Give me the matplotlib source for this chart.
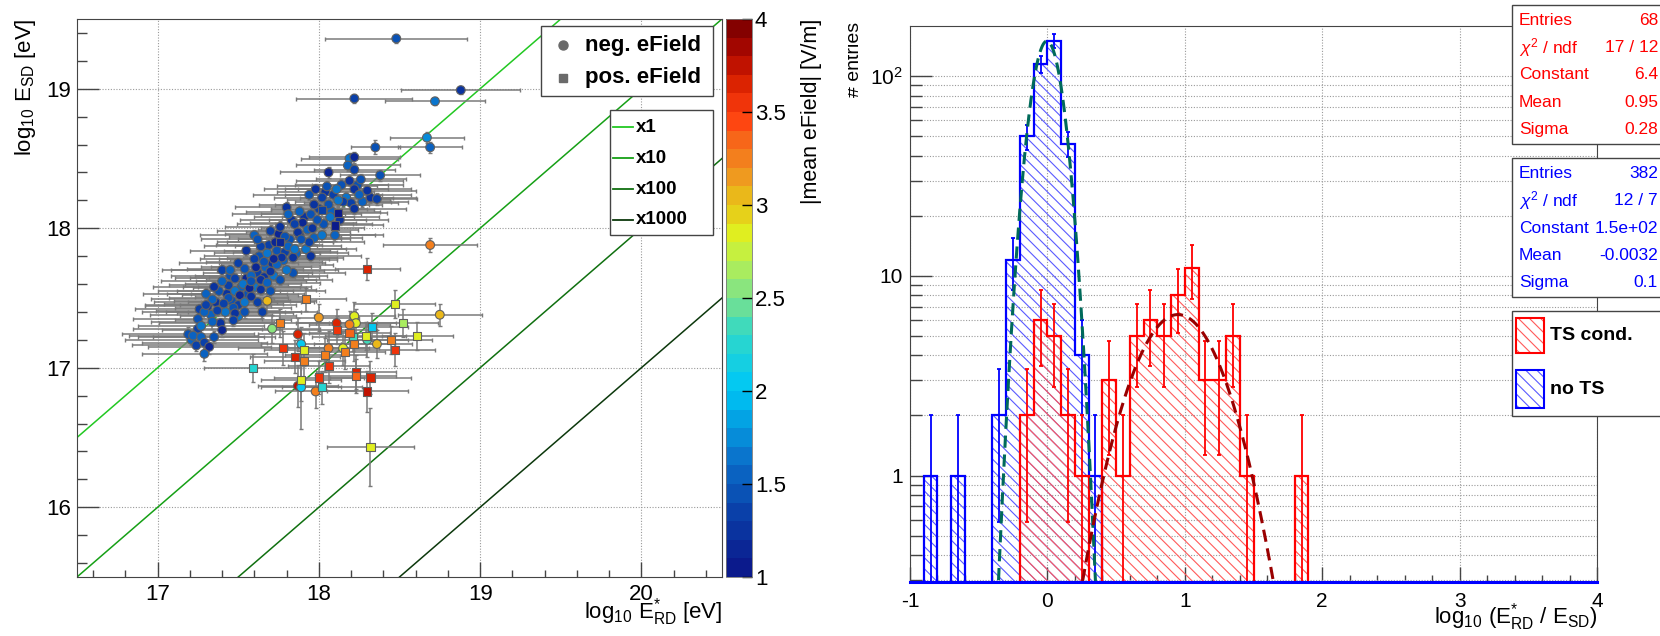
import numpy as np
import matplotlib
matplotlib.use('Agg')
import matplotlib.pyplot as plt
from matplotlib.colors import LinearSegmentedColormap, BoundaryNorm
from matplotlib.cm import ScalarMappable
from matplotlib.patches import Rectangle
from matplotlib.lines import Line2D
from matplotlib.transforms import Bbox, TransformedBbox
from matplotlib.ticker import MultipleLocator, FixedLocator, FixedFormatter, LogLocator, NullFormatter

plt.rcParams['font.family'] = ['Liberation Sans', 'DejaVu Sans']
plt.rcParams['mathtext.fontset'] = 'custom'
plt.rcParams['mathtext.rm'] = 'Liberation Sans'
plt.rcParams['mathtext.it'] = 'Liberation Sans:italic'
plt.rcParams['mathtext.bf'] = 'Liberation Sans:bold'
plt.rcParams['axes.unicode_minus'] = False
plt.rcParams['hatch.linewidth'] = 0.8

W, H = 1660, 636

# ---------------- left panel data: log10 E_RD, log10 E_SD, errors, |mean eField| ----------------
# neg. eField (circles)
neg_x = [18.48, 18.88, 18.22, 18.72, 18.67, 18.69, 18.35, 18.19, 18.22, 18.18,
         18.22, 18.06, 18.38, 18.19, 18.26, 18.22, 18.11, 18.30, 17.94, 18.02,
         18.25, 18.36, 17.97, 18.06, 18.15, 18.22, 18.07, 17.81, 17.90, 17.99,
         17.85, 17.76, 17.93, 18.02, 17.79, 17.87, 17.94, 17.73, 17.81, 17.89,
         17.64, 17.68, 17.77, 17.84, 17.66, 17.60, 17.74, 17.80, 17.61, 17.54,
         17.70, 17.58, 17.48, 17.64, 17.53, 17.76, 17.44, 17.57, 17.38, 17.48,
         17.64, 17.44, 17.51, 17.34, 17.41, 17.54, 17.31, 17.47, 17.37, 17.29,
         17.48, 17.25, 17.34, 17.40, 17.19, 17.22, 17.27, 17.29, 17.32, 17.29,
         17.47, 17.54, 17.58, 17.68, 17.72, 17.88, 17.96, 18.12, 17.62, 17.50,
         17.40, 17.35, 17.70, 17.85, 17.58, 17.45, 18.05, 17.98, 17.30, 17.27,
         # high field events
         18.69, 18.75, 18.36, 18.30, 18.22, 18.23, 18.19, 18.11, 18.15, 18.06,
         18.00, 17.68, 17.71, 17.87, 17.89, 17.87, 17.89, 17.98]
neg_y = [19.36, 18.99, 18.93, 18.91, 18.65, 18.58, 18.58, 18.50, 18.51, 18.45,
         18.42, 18.40, 18.38, 18.34, 18.35, 18.28, 18.28, 18.27, 18.24, 18.22,
         18.24, 18.21, 18.17, 18.17, 18.19, 18.14, 18.08, 18.10, 18.04, 18.06,
         18.03, 18.01, 17.99, 17.95, 17.94, 17.97, 17.90, 17.90, 17.87, 17.92,
         17.87, 17.82, 17.79, 17.79, 17.76, 17.78, 17.74, 17.70, 17.72, 17.71,
         17.69, 17.66, 17.64, 17.63, 17.60, 17.63, 17.59, 17.57, 17.55, 17.55,
         17.56, 17.50, 17.52, 17.49, 17.46, 17.47, 17.44, 17.43, 17.41, 17.40,
         17.39, 17.35, 17.33, 17.27, 17.24, 17.23, 17.22, 17.18, 17.15, 17.10,
         17.34, 17.40, 17.51, 17.61, 17.78, 18.12, 18.00, 18.20, 17.92, 17.75,
         17.62, 17.58, 17.98, 17.85, 17.62, 17.70, 18.30, 18.28, 17.45, 17.30,
         17.88, 17.38, 17.17, 17.20, 17.37, 17.32, 17.31, 17.32, 17.14, 17.14,
         17.36, 17.48, 17.28, 17.24, 17.17, 16.87, 16.86, 16.83]
neg_xerr = [0.44, 0.37, 0.36, 0.31, 0.23, 0.20, 0.15, 0.30, 0.28, 0.32,
            0.25, 0.30, 0.25, 0.33, 0.28, 0.35, 0.32, 0.30, 0.35, 0.30,
            0.32, 0.25, 0.34, 0.33, 0.30, 0.32, 0.30, 0.35, 0.33, 0.30,
            0.36, 0.34, 0.31, 0.33, 0.35, 0.32, 0.34, 0.36, 0.33, 0.30,
            0.35, 0.33, 0.34, 0.31, 0.36, 0.34, 0.35, 0.32, 0.34, 0.36,
            0.33, 0.35, 0.37, 0.34, 0.36, 0.32, 0.37, 0.35, 0.38, 0.36,
            0.34, 0.37, 0.36, 0.38, 0.37, 0.35, 0.39, 0.36, 0.38, 0.39,
            0.36, 0.40, 0.38, 0.37, 0.41, 0.40, 0.39, 0.39, 0.38, 0.39,
            0.36, 0.35, 0.35, 0.33, 0.34, 0.33, 0.32, 0.32, 0.35, 0.37,
            0.38, 0.38, 0.33, 0.32, 0.34, 0.37, 0.31, 0.32, 0.38, 0.39,
            0.29, 0.26, 0.22, 0.25, 0.25, 0.25, 0.25, 0.25, 0.22, 0.25,
            0.25, 0.30, 0.30, 0.25, 0.25, 0.25, 0.25, 0.25]
neg_yerr = [0.03, 0.03, 0.03, 0.03, 0.04, 0.04, 0.05, 0.04, 0.04, 0.04,
            0.04, 0.04, 0.04, 0.04, 0.04, 0.04, 0.04, 0.04, 0.04, 0.04,
            0.04, 0.04, 0.04, 0.04, 0.04, 0.04, 0.04, 0.04, 0.04, 0.04,
            0.04, 0.04, 0.04, 0.04, 0.04, 0.04, 0.04, 0.04, 0.04, 0.04,
            0.04, 0.04, 0.04, 0.04, 0.04, 0.04, 0.04, 0.04, 0.04, 0.04,
            0.04, 0.04, 0.04, 0.04, 0.04, 0.04, 0.04, 0.04, 0.04, 0.04,
            0.04, 0.04, 0.04, 0.04, 0.04, 0.04, 0.04, 0.04, 0.04, 0.04,
            0.04, 0.05, 0.05, 0.05, 0.05, 0.05, 0.05, 0.05, 0.05, 0.05,
            0.04, 0.04, 0.04, 0.04, 0.04, 0.04, 0.04, 0.04, 0.04, 0.04,
            0.04, 0.04, 0.04, 0.04, 0.04, 0.04, 0.04, 0.04, 0.04, 0.05,
            0.05, 0.08, 0.10, 0.12, 0.10, 0.10, 0.10, 0.10, 0.12, 0.12,
            0.10, 0.08, 0.10, 0.12, 0.12, 0.15, 0.30, 0.12]
neg_field = [1.45, 1.25, 1.30, 1.65, 1.75, 1.55, 1.45, 1.70, 1.15, 1.50,
             1.35, 1.15, 1.45, 1.20, 1.40, 1.25, 1.60, 1.20, 1.40, 1.30,
             1.55, 1.30, 1.20, 1.45, 1.35, 1.25, 1.65, 1.50, 1.15, 1.45,
             1.30, 1.25, 1.55, 1.70, 1.40, 1.20, 1.30, 1.15, 1.50, 1.45,
             1.35, 1.60, 1.25, 1.20, 1.45, 1.30, 1.55, 1.70, 1.15, 1.40,
             1.25, 1.50, 1.35, 1.20, 1.65, 1.45, 1.30, 1.10, 1.45, 1.60,
             1.25, 1.40, 1.15, 1.50, 1.30, 1.70, 1.20, 1.45, 1.35, 1.55,
             1.25, 1.40, 1.50, 1.15, 1.45, 1.50, 1.55, 1.35, 1.10, 1.50,
             1.30, 1.45, 1.20, 1.50, 1.15, 1.55, 1.25, 1.60, 1.40, 1.30,
             1.55, 1.20, 1.35, 1.65, 1.45, 1.50, 1.40, 1.25, 1.30, 1.60,
             3.20, 3.00, 3.00, 2.40, 2.85, 2.90, 3.30, 3.60, 2.90, 3.30,
             3.10, 3.00, 2.50, 3.60, 2.00, 3.70, 2.00, 3.30]

# further neg. eField events inside the dense band (circles, y error 0.04)
dense_x = [17.25, 17.33, 17.36, 17.42, 17.43, 17.46, 17.50, 17.52, 17.55, 17.56,
           17.60, 17.62, 17.63, 17.66, 17.67, 17.69, 17.71, 17.72, 17.74, 17.75,
           17.78, 17.79, 17.82, 17.83, 17.86, 17.88, 17.91, 17.92, 17.95, 17.97,
           18.00, 18.03, 18.04, 18.08, 18.09, 18.13, 18.14, 18.17, 18.20, 18.24,
           18.27, 18.32, 17.21, 17.24, 17.35, 17.39, 17.30, 17.26, 17.45, 17.55,
           17.50, 17.62, 17.70, 17.95, 18.10, 17.40, 17.60, 17.80, 17.84, 17.65]
dense_y = [17.28, 17.38, 17.47, 17.40, 17.53, 17.48, 17.45, 17.58, 17.64, 17.53,
           17.58, 17.68, 17.80, 17.65, 17.72, 17.88, 17.75, 17.66, 17.84, 17.96,
           17.77, 17.83, 17.92, 18.06, 17.82, 17.95, 18.08, 17.85, 18.10, 17.93,
           18.14, 18.03, 18.26, 18.12, 18.24, 18.06, 18.31, 18.22, 18.18, 18.31,
           18.19, 18.22, 17.20, 17.16, 17.22, 17.32, 17.53, 17.42, 17.66, 17.84,
           17.37, 17.47, 17.55, 17.80, 17.95, 17.70, 17.95, 18.15, 17.68, 17.40]
dense_xerr = [0.40, 0.38, 0.38, 0.37, 0.37, 0.36, 0.36, 0.36, 0.35, 0.35,
              0.35, 0.34, 0.34, 0.34, 0.34, 0.33, 0.33, 0.33, 0.33, 0.33,
              0.33, 0.32, 0.32, 0.32, 0.32, 0.31, 0.31, 0.31, 0.31, 0.30,
              0.30, 0.30, 0.30, 0.30, 0.30, 0.30, 0.29, 0.29, 0.29, 0.28,
              0.28, 0.28, 0.41, 0.40, 0.38, 0.38, 0.39, 0.40, 0.37, 0.35,
              0.36, 0.35, 0.34, 0.31, 0.30, 0.37, 0.34, 0.32, 0.32, 0.34]
dense_field = [1.35, 1.50, 1.25, 1.60, 1.20, 1.45, 1.30, 1.55, 1.15, 1.40,
               1.65, 1.30, 1.45, 1.20, 1.50, 1.35, 1.25, 1.60, 1.40, 1.15,
               1.50, 1.30, 1.45, 1.20, 1.55, 1.35, 1.25, 1.60, 1.40, 1.50,
               1.30, 1.45, 1.20, 1.55, 1.35, 1.25, 1.45, 1.60, 1.30, 1.40,
               1.50, 1.25, 1.50, 1.30, 1.45, 1.20, 1.55, 1.35, 1.40, 1.25,
               1.60, 1.30, 1.45, 1.20, 1.50, 1.35, 1.50, 1.25, 1.45, 1.30]
dense_yerr = 0.04

# pos. eField (squares)
pos_x = [18.12, 18.10, 17.76, 18.02,
         18.30, 18.47, 18.52, 18.61, 18.47, 18.45, 18.33, 18.29, 18.21, 18.11,
         18.19, 18.22, 18.16, 18.04, 18.06, 17.92, 17.76, 17.78, 17.91, 17.85,
         17.91, 17.59, 17.89, 18.00, 18.02, 18.23, 18.23, 18.32, 18.30, 18.32]
pos_y = [18.11, 18.02, 17.90, 18.13,
         17.71, 17.46, 17.32, 17.23, 17.13, 17.20, 17.29, 17.23, 17.22, 17.27,
         17.25, 17.17, 17.11, 17.09, 17.01, 17.49, 17.32, 17.14, 17.13, 17.08,
         17.05, 17.00, 16.91, 16.93, 16.86, 16.97, 16.94, 16.93, 16.83, 16.43]
pos_xerr = [0.30, 0.30, 0.33, 0.32,
            0.20, 0.25, 0.22, 0.22, 0.25, 0.25, 0.22, 0.25, 0.25, 0.25,
            0.25, 0.25, 0.25, 0.25, 0.25, 0.25, 0.30, 0.28, 0.25, 0.28,
            0.25, 0.30, 0.25, 0.28, 0.25, 0.25, 0.25, 0.25, 0.25, 0.27]
pos_yerr = [0.04, 0.04, 0.04, 0.04,
            0.08, 0.10, 0.10, 0.10, 0.12, 0.10, 0.10, 0.10, 0.10, 0.10,
            0.10, 0.12, 0.12, 0.12, 0.12, 0.08, 0.10, 0.12, 0.12, 0.12,
            0.12, 0.10, 0.15, 0.12, 0.12, 0.12, 0.12, 0.12, 0.15, 0.28]
pos_field = [1.05, 1.05, 1.10, 1.30,
             3.60, 2.80, 2.60, 2.90, 3.50, 3.30, 2.00, 2.85, 2.30, 3.50,
             3.40, 3.30, 3.30, 3.20, 3.50, 3.20, 3.30, 3.50, 2.80, 3.60,
             3.30, 2.20, 2.80, 3.50, 2.20, 3.60, 3.40, 3.60, 3.70, 2.80]

ratio_factors = [1, 10, 100, 1000]
ratio_labels = ['x1', 'x10', 'x100', 'x1000']
ratio_colors = ['#22c822', '#16a016', '#107010', '#0c380c']

field_ticks = [1, 1.5, 2, 2.5, 3, 3.5, 4]
field_tick_labels = ['1', '1.5', '2', '2.5', '3', '3.5', '4']

# ---------------- right panel data: histograms of log10(E_RD/E_SD), 0.1 wide bins from -1 to 4 ----------------
bin_lo = -1.0
bin_hi = 4.0
n_bins = 50
noTS_counts = [0, 1, 0, 1, 0, 0, 2, 12, 50, 115,
               150, 46, 4, 1, 0, 0, 0, 0, 0, 0,
               0, 0, 0, 0, 0, 0, 0, 0, 0, 0,
               0, 0, 0, 0, 0, 0, 0, 0, 0, 0,
               0, 0, 0, 0, 0, 0, 0, 0, 0, 0]
TS_counts = [0, 0, 0, 0, 0, 0, 0, 0, 2, 6,
             5, 2, 1, 0, 3, 1, 5, 6, 5, 8,
             11, 3, 3, 5, 1, 0, 0, 0, 1, 0,
             0, 0, 0, 0, 0, 0, 0, 0, 0, 0,
             0, 0, 0, 0, 0, 0, 0, 0, 0, 0]
# gaussian fit results (constant, mean, sigma)
TS_fit = (6.4, 0.95, 0.28)
noTS_fit = (150.0, -0.0032, 0.1)
TS_stats = [('Entries', '68'), ('$\\chi^{2}$ / ndf', '17 / 12'), ('Constant', '6.4'),
            ('Mean', '0.95'), ('Sigma', '0.28')]
noTS_stats = [('Entries', '382'), ('$\\chi^{2}$ / ndf', '12 / 7'), ('Constant', '1.5e+02'),
              ('Mean', '-0.0032'), ('Sigma', '0.1')]


def fx(x):
    return x / W


def fy(y):
    return 1 - y / H


# ROOT-like rainbow palette with 30 discrete levels
pal_vals = [1.0, 1.3, 1.6, 1.9, 2.0, 2.3, 2.5, 2.7, 2.85, 3.0, 3.2, 3.4, 3.5, 3.7, 3.85, 4.0]
pal_cols = ['#0b1a8c', '#0a3fa8', '#0a72cc', '#00b4ec', '#00c8f5', '#30d8c8', '#7ee28a',
            '#b8f050', '#e0f020', '#e8c818', '#f09020', '#f86018', '#ff4010', '#d82000',
            '#b00800', '#800000']
cmap = LinearSegmentedColormap.from_list('rootrainbow',
                                         [((v - 1) / 3, c) for v, c in zip(pal_vals, pal_cols)], N=256)
norm = BoundaryNorm(np.linspace(1, 4, 31), 256)

fig = plt.figure(figsize=(W / 100, H / 100), dpi=100)
frame_col = '#444444'
grid_kw = dict(color='#9a9a9a', linestyle=(0, (1, 1.5)), linewidth=0.8)

# ================= left panel =================
ax1 = fig.add_axes([fx(77), fy(577), (722 - 77) / W, (577 - 19) / H])
ax1.set_xlim(16.5, 20.5)
ax1.set_ylim(15.5, 19.5)
ax1.xaxis.set_major_locator(MultipleLocator(1))
ax1.xaxis.set_minor_locator(MultipleLocator(0.2))
ax1.yaxis.set_major_locator(MultipleLocator(1))
ax1.yaxis.set_minor_locator(MultipleLocator(0.2))
ax1.tick_params(axis='x', which='major', direction='in', length=11, width=1, color=frame_col,
                labelsize=16, pad=5)
ax1.tick_params(axis='x', which='minor', direction='in', length=5, width=1, color=frame_col)
ax1.tick_params(axis='y', which='major', direction='in', length=16, width=1, color=frame_col,
                labelsize=16, pad=4)
ax1.tick_params(axis='y', which='minor', direction='in', length=7.5, width=1, color=frame_col)
for s in ax1.spines.values():
    s.set_color(frame_col)
ax1.grid(True, which='major', **grid_kw)
ax1.set_axisbelow(True)

xl = np.array([16.5, 20.5])
for f, c in zip(ratio_factors, ratio_colors):
    ax1.plot(xl, xl - np.log10(f), color=c, lw=1.1, zorder=1)

err_kw = dict(fmt='none', ecolor='#7a7a7a', elinewidth=1.1, capsize=1.5, capthick=1, zorder=2)
ax1.errorbar(dense_x, dense_y, xerr=dense_xerr, yerr=dense_yerr, **err_kw)
ax1.errorbar(neg_x, neg_y, xerr=neg_xerr, yerr=neg_yerr, **err_kw)
ax1.errorbar(pos_x, pos_y, xerr=pos_xerr, yerr=pos_yerr, **err_kw)
mk_kw = dict(cmap=cmap, norm=norm, edgecolors='#606060', linewidths=0.8, zorder=3)
ax1.scatter(dense_x, dense_y, c=dense_field, marker='o', s=40, **mk_kw)
ax1.scatter(neg_x, neg_y, c=neg_field, marker='o', s=40, **mk_kw)
ax1.scatter(pos_x, pos_y, c=pos_field, marker='s', s=34, **mk_kw)

# colour bar
cax = fig.add_axes([fx(726), fy(577), 26 / W, (577 - 19) / H])
cb = fig.colorbar(ScalarMappable(norm=norm, cmap=cmap), cax=cax, ticks=field_ticks)
cb.ax.set_yticklabels(field_tick_labels)
cb.ax.tick_params(direction='in', length=7, width=1, color='black', labelsize=16, pad=2)
cb.ax.minorticks_off()
cb.outline.set_edgecolor('#777777')
cb.outline.set_linewidth(0.6)

# axis titles
fig.text(fx(722), fy(612), 'log$_{\\mathrm{10}}$ E$^{\\mathrm{*}}_{\\mathrm{RD}}$ [eV]',
         ha='right', va='center', fontsize=16)
fig.text(fx(26), fy(19), 'log$_{\\mathrm{10}}$ E$_{\\mathrm{SD}}$ [eV]',
         ha='center', va='top', rotation=90, fontsize=16)
fig.text(fx(811), fy(19), '|mean eField| [V/m]', ha='center', va='top', rotation=90, fontsize=15.5)

# legend: marker type
fig.add_artist(Rectangle((fx(541), fy(96)), (713 - 541) / W, (96 - 26) / H, transform=fig.transFigure,
                         facecolor='white', edgecolor=frame_col, lw=1, zorder=5))
fig.add_artist(Line2D([fx(563)], [fy(45)], transform=fig.transFigure, marker='o', ms=6.5,
                      color='#6a6a6a', zorder=6))
fig.add_artist(Line2D([fx(563)], [fy(78)], transform=fig.transFigure, marker='s', ms=6,
                      color='#6a6a6a', zorder=6))
fig.text(fx(585), fy(45), 'neg. eField', ha='left', va='center', fontsize=16, fontweight='bold', zorder=6)
fig.text(fx(585), fy(78), 'pos. eField', ha='left', va='center', fontsize=16, fontweight='bold', zorder=6)

# legend: ratio lines
fig.add_artist(Rectangle((fx(610), fy(235)), (713 - 610) / W, (235 - 110) / H, transform=fig.transFigure,
                         facecolor='white', edgecolor=frame_col, lw=1, zorder=5))
for i, (lab, c) in enumerate(zip(ratio_labels, ratio_colors)):
    yy = 127 + i * 31
    fig.add_artist(Line2D([fx(613), fx(633)], [fy(yy), fy(yy)], transform=fig.transFigure,
                          color=c, lw=1.3, zorder=6))
    fig.text(fx(636), fy(yy), lab, ha='left', va='center', fontsize=13.5, fontweight='bold', zorder=6)

# ================= right panel =================
ax2 = fig.add_axes([fx(910), fy(582.3), (1597 - 910) / W, (582.3 - 25.7) / H])
ymin, ymax = 0.292, 179
ax2.set_xlim(bin_lo, bin_hi)
ax2.set_yscale('log')
ax2.set_ylim(ymin, ymax)

edges = np.linspace(bin_lo, bin_hi, n_bins + 1)
centers = 0.5 * (edges[:-1] + edges[1:])
base = 1e-3

for counts, hcol in [(noTS_counts, '#5a5aff'), (TS_counts, '#ff5a5a')]:
    c = np.array(counts, dtype=float)
    shown = np.where(c > 0, c, base)
    ax2.stairs(shown, edges, baseline=base, fill=True, facecolor='none', edgecolor=hcol,
               hatch='\\\\\\', linewidth=0, zorder=2)

for counts, col in [(noTS_counts, '#0000ff'), (TS_counts, '#ff0000')]:
    c = np.array(counts, dtype=float)
    shown = np.where(c > 0, c, base)
    ax2.stairs(shown, edges, baseline=base, fill=False, color=col, lw=1.6, zorder=3)
    nz = c > 0
    err = np.sqrt(c[nz])
    lo = np.minimum(err, c[nz] - base)
    ax2.errorbar(centers[nz], c[nz], yerr=[lo, err], fmt='none', ecolor=col, elinewidth=1.3,
                 capsize=1.5, capthick=1.3, zorder=3)

xf = np.linspace(bin_lo, bin_hi, 2000)
for (a, m, s), col in [(noTS_fit, '#006a5a'), (TS_fit, '#9a0000')]:
    ax2.plot(xf, a * np.exp(-0.5 * ((xf - m) / s) ** 2), color=col, lw=2.2,
             dashes=(4, 2.2), zorder=4)

ax2.axhline(ymin, color='#0000ff', lw=2.2, zorder=5, clip_on=False)

ax2.xaxis.set_major_locator(MultipleLocator(1))
ax2.xaxis.set_minor_locator(MultipleLocator(0.2))
ax2.yaxis.set_major_locator(FixedLocator([1, 10, 100]))
ax2.yaxis.set_major_formatter(FixedFormatter(['1', '10', '10$^{2}$']))
ax2.yaxis.set_minor_locator(LogLocator(base=10, subs=np.arange(2, 10)))
ax2.yaxis.set_minor_formatter(NullFormatter())
ax2.tick_params(axis='x', which='major', direction='in', length=11, width=1, color=frame_col,
                labelsize=15, pad=7)
ax2.tick_params(axis='x', which='minor', direction='in', length=5, width=1, color=frame_col)
ax2.tick_params(axis='y', which='major', direction='in', length=16, width=1, color=frame_col,
                labelsize=15, pad=5)
ax2.tick_params(axis='y', which='minor', direction='in', length=8.5, width=1, color=frame_col)
for s in ax2.spines.values():
    s.set_color(frame_col)
ax2.grid(True, which='major', axis='x', **grid_kw)
ax2.grid(True, which='both', axis='y', **grid_kw)
ax2.set_axisbelow(True)

fig.text(fx(1597), fy(617), 'log$_{\\mathrm{10}}$ (E$^{\\mathrm{*}}_{\\mathrm{RD}}$ / E$_{\\mathrm{SD}}$)',
         ha='right', va='center', fontsize=16)
# y title sits at the pad edge, partly cut like in the original
ylab = fig.text(fx(854), fy(22), '# entries', ha='center', va='top', rotation=90, fontsize=14)
ylab.set_clip_box(TransformedBbox(Bbox([[fx(848), 0], [fx(900), 1]]), fig.transFigure))
ylab.set_clip_on(True)

# stats boxes
for (top, bot, rows, col) in [(4.7, 144, TS_stats, '#ff0000'), (158, 297, noTS_stats, '#0000ff')]:
    fig.add_artist(Rectangle((fx(1512), fy(bot)), (1700 - 1512) / W, (bot - top) / H,
                             transform=fig.transFigure, facecolor='white', edgecolor=frame_col,
                             lw=1, zorder=5))
    for i, (lab, val) in enumerate(rows):
        yy = top + 15.5 + i * 27.3
        fig.text(fx(1519), fy(yy), lab, ha='left', va='center', color=col, fontsize=12.5, zorder=6)
        fig.text(fx(1658), fy(yy), val, ha='right', va='center', color=col, fontsize=12.5, zorder=6)

# legend for histograms
fig.add_artist(Rectangle((fx(1512), fy(416)), (1700 - 1512) / W, (416 - 311) / H,
                         transform=fig.transFigure, facecolor='white', edgecolor=frame_col,
                         lw=1, zorder=5))
for (y0, y1, lab, col, hcol) in [(318, 353, 'TS cond.', '#ff0000', '#ff5a5a'),
                                  (370, 408, 'no TS', '#0000ff', '#5a5aff')]:
    fig.add_artist(Rectangle((fx(1516), fy(y1)), 28 / W, (y1 - y0) / H, transform=fig.transFigure,
                             facecolor='white', edgecolor=hcol, hatch='\\\\\\', lw=0, zorder=6))
    fig.add_artist(Rectangle((fx(1516), fy(y1)), 28 / W, (y1 - y0) / H, transform=fig.transFigure,
                             facecolor='none', edgecolor=col, lw=1.5, zorder=7))
    fig.text(fx(1550), fy((y0 + y1) / 2), lab, ha='left', va='center', fontsize=14,
             fontweight='bold', zorder=7)

fig.savefig('out.png', dpi=100)
